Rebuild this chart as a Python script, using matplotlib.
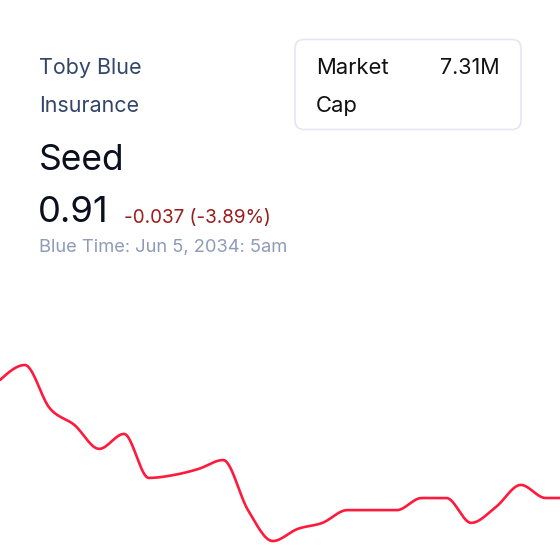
import numpy as np
import matplotlib
matplotlib.use("Agg")
import matplotlib.pyplot as plt
from matplotlib.patches import FancyBboxPatch

# ---- data ----
prices = [0.9470, 0.9517, 0.9382, 0.9329, 0.9254, 0.9301, 0.9163, 0.9172,
          0.9191, 0.9219, 0.9062, 0.8965, 0.9003, 0.9022, 0.9062, 0.9062,
          0.9062, 0.9100, 0.9100, 0.9022, 0.9072, 0.9141, 0.9100, 0.9100]
company = ["Toby Blue", "Insurance"]
ticker = "Seed"
last_price = "0.91"
change_text = "-0.037 (-3.89%)"
time_text = "Blue Time: Jun 5, 2034: 5am"
cap_label = ["Market", "Cap"]
cap_value = "7.31M"


def monotone_x(x, y, n=30):
    x = np.asarray(x, float)
    y = np.asarray(y, float)
    h = np.diff(x)
    s = np.diff(y) / h
    m = np.zeros_like(y)
    for i in range(1, len(y) - 1):
        s0, s1 = s[i - 1], s[i]
        p = (s0 * h[i] + s1 * h[i - 1]) / (h[i - 1] + h[i])
        m[i] = (np.sign(s0) + np.sign(s1)) * min(abs(s0), abs(s1), 0.5 * abs(p))
    m[0] = (3 * s[0] - m[1]) / 2
    m[-1] = (3 * s[-1] - m[-2]) / 2
    xs, ys = [], []
    for i in range(len(x) - 1):
        t = np.linspace(0, 1, n, endpoint=False)
        h00 = 2 * t**3 - 3 * t**2 + 1
        h10 = t**3 - 2 * t**2 + t
        h01 = -2 * t**3 + 3 * t**2
        h11 = t**3 - t**2
        xs.append(x[i] + t * h[i])
        ys.append(h00 * y[i] + h10 * h[i] * m[i] + h01 * y[i + 1] + h11 * h[i] * m[i + 1])
    xs.append([x[-1]])
    ys.append([y[-1]])
    return np.concatenate(xs), np.concatenate(ys)


W = H = 560
fig = plt.figure(figsize=(5.6, 5.6), dpi=100)
fig.patch.set_facecolor("white")

ax = fig.add_axes([0, 0, 1, 1])
ax.set_axis_off()
idx = np.arange(len(prices))
sx, sy = monotone_x(idx, prices)
ax.plot(sx, sy, color="#ff1a3d", lw=1.9, solid_capstyle="round")
step = 24.8
ax.set_xlim(0, W / step)
k = 0.037 / 118
ax.set_ylim(0.91 - 62 * k, 0.91 + 498 * k)

FONT = "Inter"


def T(x, y, s, px, color, ha="left", weight="normal"):
    fig.text(x / W, 1 - y / H, s, fontsize=px * 0.72, color=color, ha=ha,
             va="baseline", family=[FONT, "DejaVu Sans"], fontweight=weight)


T(39, 73.5, company[0], 21.5, "#34456b")
T(39, 111.5, company[1], 21.5, "#34456b")
T(39, 170, ticker, 35.5, "#0b0f1e")
T(38, 222, last_price, 36.5, "#0b0f1e")
T(124, 222.5, change_text, 18.8, "#9b1c1c")
T(39, 251.5, time_text, 18.4, "#8e9bb9")

box = FancyBboxPatch((295 / W, 1 - 129.5 / H), 226 / W, 90 / H,
                     boxstyle="round,pad=0,rounding_size=0.016",
                     transform=fig.transFigure, facecolor="white",
                     edgecolor="#e4e7f2", lw=1.2)
fig.patches.append(box)
T(316, 74, cap_label[0], 22, "#111111")
T(316, 112, cap_label[1], 22, "#111111")
T(500, 74, cap_value, 21.5, "#111111", ha="right")

fig.savefig("out.png", dpi=100, facecolor="white")
